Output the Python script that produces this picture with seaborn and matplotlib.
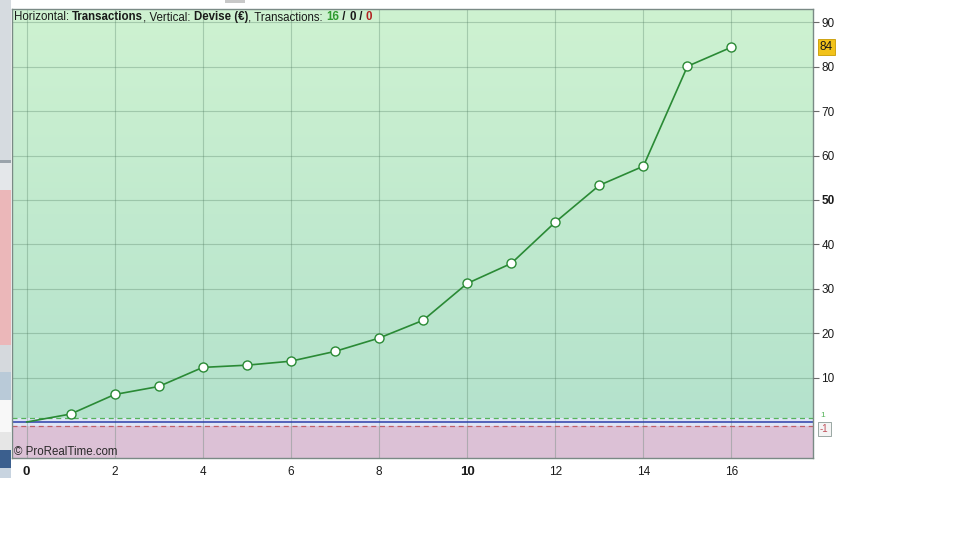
import numpy as np
import pandas as pd
import seaborn as sns
import matplotlib
matplotlib.use("Agg")
import matplotlib.pyplot as plt
from matplotlib.patches import Rectangle
from matplotlib.colors import LinearSegmentedColormap

# ---- data ----
transactions = list(range(17))
equity = [0.0, 1.8, 6.2, 8.0, 12.3, 12.8, 13.7, 15.9, 18.9, 22.9,
          31.2, 35.7, 45.0, 53.3, 57.6, 80.1, 84.4]
y_ticks = [10, 20, 30, 40, 50, 60, 70, 80, 90]
y_tick_labels = ["10", "20", "30", "40", "50", "60", "70", "80", "90"]
x_ticks = [0, 2, 4, 6, 8, 10, 12, 14, 16]
x_tick_labels = ["0", "2", "4", "6", "8", "10", "12", "14", "16"]
x_minor = [1, 3, 5, 7, 9, 11, 13, 15, 17]
last_label = "84"
header_parts = [("Horizontal: ", "normal", "#1a1a1a"),
                ("Transactions", "bold", "#1a1a1a"),
                (", Vertical: ", "normal", "#1a1a1a"),
                ("Devise (€)", "bold", "#1a1a1a"),
                (", Transactions: ", "normal", "#1a1a1a"),
                ("16", "bold", "#2e9a2e"),
                (" / ", "bold", "#1a1a1a"),
                ("0", "bold", "#1a1a1a"),
                (" / ", "bold", "#1a1a1a"),
                ("0", "bold", "#b22222")]

df = pd.DataFrame({"Transactions": transactions, "Devise": equity})

sns.set_style("white")
plt.rcParams['font.family'] = ['Liberation Sans', 'DejaVu Sans']

W, H = 960, 540
fig = plt.figure(figsize=(9.6, 5.4), dpi=100)
fig.patch.set_facecolor("white")

# left cut-off UI strip
strip = [(0, 160, '#d6dbe0'), (160, 163, '#9aa3ab'), (163, 190, '#e4e7ea'),
         (190, 345, '#ebb7b9'), (345, 372, '#d5d9dd'), (372, 400, '#b9cad8'),
         (400, 432, '#f8f8f8'), (432, 450, '#e6e6e6'), (450, 468, '#3b5f8e'),
         (468, 478, '#c8d4e0')]
for y0, y1, c in strip:
    fig.patches.append(Rectangle((0, 1 - y1 / H), 11 / W, (y1 - y0) / H,
                                 transform=fig.transFigure, color=c, lw=0, zorder=-5))
fig.patches.append(Rectangle((225 / W, 1 - 3 / H), 20 / W, 3 / H,
                             transform=fig.transFigure, color='#c8c8c8', lw=0))

ax = fig.add_axes([12 / W, 82 / H, 801 / W, 449 / H])
xlim = (-0.33, 17.85)
ylim = (-8.1, 93.0)

# background zones
grad = np.linspace(0, 1, 256).reshape(-1, 1)
cmap = LinearSegmentedColormap.from_list('bg', ['#b4e2cc', '#cef2d1'])
ax.imshow(grad, extent=(xlim[0], xlim[1], 1, ylim[1]), origin='lower',
          aspect='auto', cmap=cmap, zorder=0)
ax.axhspan(-1, 1, color='#dfe5f6', zorder=0, lw=0)
ax.axhspan(ylim[0], -1, color='#dcc1d6', zorder=0, lw=0)
ax.set_xlim(*xlim)
ax.set_ylim(*ylim)

ax.set_axisbelow(False)
for yt in y_ticks:
    ax.axhline(yt, color='#4f7a60', alpha=0.32, lw=0.8, zorder=1)
for xt in x_ticks:
    ax.axvline(xt, color='#4f7a60', alpha=0.32, lw=0.8, zorder=1)

ax.axhline(1, color='#55b35a', ls=(0, (4, 3)), lw=0.9, zorder=2)
ax.axhline(-1, color='#c0606a', ls=(0, (4, 3)), lw=0.9, zorder=2)
ax.axhline(0, color='#2b3fa8', lw=1.1, zorder=2)

green = '#2a8a35'
sns.lineplot(data=df, x="Transactions", y="Devise", ax=ax, color=green, lw=1.2,
             marker='o', markersize=6.5, markerfacecolor='white',
             markeredgecolor=green, markeredgewidth=1.0,
             markevery=list(range(1, len(transactions))), zorder=5)

ax.set_xlabel("")
ax.set_ylabel("")

# axes ticks
ax.yaxis.tick_right()
ax.set_yticks(y_ticks)
ax.set_yticklabels(y_tick_labels)
ax.set_xticks(x_ticks)
ax.set_xticklabels(x_tick_labels)
ax.set_xticks(x_minor, minor=True)
ax.tick_params(axis='y', which='major', direction='out', length=4, width=0.8,
               color='#6a6a6a', labelsize=8.5, pad=2, labelcolor='#1a1a1a')
ax.tick_params(axis='x', which='both', direction='out', length=3, width=0.8,
               color='#6a6a6a', labelsize=8.5, pad=3, labelcolor='#1a1a1a')
for lab in ax.get_xticklabels():
    if lab.get_text() in ("0", "10"):
        lab.set_fontweight('bold')
        lab.set_fontsize(9.5)
for lab in ax.get_yticklabels():
    if lab.get_text() == "50":
        lab.set_fontweight('bold')

for sp in ax.spines.values():
    sp.set_color('#7a8a85')
    sp.set_linewidth(1.0)
    sp.set_visible(True)

# header text (multi-coloured), pieces share one baseline
renderer = fig.canvas.get_renderer()
HFS = 8.3


def advance(s, fw):
    a = fig.text(0, 0, s + "|", fontsize=HFS, fontweight=fw)
    b = fig.text(0, 0, "|", fontsize=HFS, fontweight=fw)
    w = a.get_window_extent(renderer).width - b.get_window_extent(renderer).width
    a.remove()
    b.remove()
    return w


x_px = 14.0
base_y = 1 - 20 / H
for s, fw, c in header_parts:
    fig.text(x_px / W, base_y, s, fontsize=HFS, fontweight=fw, color=c,
             ha='left', va='baseline', zorder=10)
    x_px += advance(s, fw)

ax.text(1.5 / 801, 6 / 449, "© ProRealTime.com", transform=ax.transAxes,
        fontsize=8.3, color='#2a2a2a', ha='left', va='center', zorder=10)

# last value marker
ax.annotate(last_label, xy=(1, equity[-1]), xycoords=('axes fraction', 'data'),
            xytext=(5, 0), textcoords='offset points', fontsize=8.5,
            va='center', ha='left', color='#1a1a1a', annotation_clip=False,
            bbox=dict(boxstyle='square,pad=0.15', fc='#f2c21a', ec='#c89a00', lw=0.6))
ax.annotate("1", xy=(1, 1.5), xycoords=('axes fraction', 'data'),
            xytext=(5, 0), textcoords='offset points', fontsize=6,
            va='center', ha='left', color='#55b35a', annotation_clip=False)
ax.annotate("-1", xy=(1, -1.5), xycoords=('axes fraction', 'data'),
            xytext=(5, 0), textcoords='offset points', fontsize=7,
            va='center', ha='left', color='#c0505a', annotation_clip=False,
            bbox=dict(boxstyle='square,pad=0.2', fc='#f4f4f4', ec='#8a9a95', lw=0.6))

fig.savefig("out.png", dpi=100)
